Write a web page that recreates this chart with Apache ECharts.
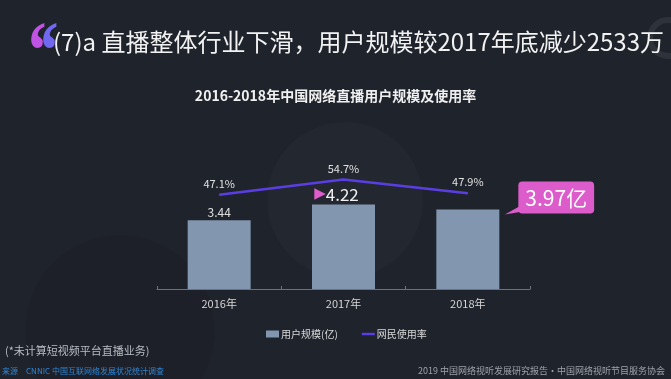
<!DOCTYPE html>
<html>
<head>
<meta charset="utf-8">
<script src="https://cdn.jsdelivr.net/npm/echarts@6/dist/echarts.min.js"></script>
<style>
html,body{margin:0;padding:0;background:#1f232c;}
#main{width:671px;height:379px;}
</style>
</head>
<body>
<div id="main"></div>
<script>
var categories = ['2016年', '2017年', '2018年'];
var userScale = [3.44, 4.22, 3.97];
var usageRate = [47.1, 54.7, 47.9];
var seriesNames = ['用户规模(亿)', '网民使用率'];
var mainTitle = '(7)a 直播整体行业下滑，用户规模较2017年底减少2533万';
var subTitle = '2016-2018年中国网络直播用户规模及使用率';
var footNote = '(*未计算短视频平台直播业务)';
var sourceNote = '来源　CNNIC 中国互联网络发展状况统计调查';
var creditNote = '2019 中国网络视听发展研究报告·中国网络视听节目服务协会';

var FONT = "'Liberation Sans Narrow', 'Noto Sans CJK SC', sans-serif";
var CJK = "'Noto Sans CJK SC', sans-serif";

var chart = echarts.init(document.getElementById('main'));
chart.setOption({
  backgroundColor: '#1f232c',
  animation: false,
  graphic: [
    { type: 'circle', shape: { cx: 345, cy: 200, r: 78 }, style: { fill: 'rgba(255,255,255,0.018)' }, z: -1 },
    { type: 'circle', shape: { cx: 120, cy: 330, r: 95 }, style: { fill: 'rgba(0,0,0,0.06)' }, z: -1 },
    { type: 'circle', shape: { cx: 668, cy: 38, r: 18 }, style: { fill: 'none', stroke: 'rgba(255,255,255,0.07)', lineWidth: 6 }, z: -1 },
    { type: 'text', left: 26, top: 15, scaleY: 1.25, style: { text: '\u2018', fontSize: 66, fontWeight: 'bold', fontFamily: 'Liberation Serif', fill: '#c052e4' } },
    { type: 'text', left: 38, top: 15, scaleY: 1.25, style: { text: '\u2018', fontSize: 66, fontWeight: 'bold', fontFamily: 'Liberation Serif', fill: '#7068ee' } },
    { type: 'text', left: 53, top: 30, style: { text: mainTitle, fontSize: 24, fontFamily: FONT, fill: '#f2f2f2' } },
    { type: 'text', left: 'center', top: 89, style: { text: subTitle, fontSize: 14, fontWeight: 'bold', fontFamily: CJK, fill: '#f0f0f0' } },
    { type: 'text', left: 5, top: 345, style: { text: footNote, fontSize: 11, fontFamily: CJK, fill: '#b9bcc4' } },
    { type: 'text', left: 2, top: 367, style: { text: sourceNote, fontSize: 8, fontFamily: CJK, fill: '#2f86d6' } },
    { type: 'text', right: 6, top: 366, style: { text: creditNote, fontSize: 9, fontFamily: CJK, fill: '#9ea2aa' } }
  ],
  legend: {
    data: [
      { name: seriesNames[0], icon: 'rect' },
      { name: seriesNames[1], icon: 'path://M0,0 L16,0 L16,3 L0,3 Z' }
    ],
    left: 261, top: 324,
    itemWidth: 13, itemHeight: 7, itemGap: 24,
    textStyle: { color: '#d8d8d8', fontSize: 10, fontFamily: CJK, padding: [0, 0, 0, -3] }
  },
  grid: { left: 157, right: 141, top: 89, bottom: 90 },
  xAxis: {
    type: 'category', data: categories,
    axisLine: { lineStyle: { color: '#6d717a', width: 1 } },
    axisTick: { show: true, inside: true, length: 3, lineStyle: { color: '#6d717a' } },
    axisLabel: { color: '#d6d6d6', fontSize: 11, fontFamily: FONT, margin: 9 }
  },
  yAxis: [
    { type: 'value', min: 0, max: 10, show: false, splitLine: { show: false } },
    { type: 'value', min: 0, max: 100, show: false, splitLine: { show: false } }
  ],
  series: [
    {
      name: seriesNames[0], type: 'bar', barWidth: 63,
      itemStyle: { color: '#8396af' },
      data: userScale.map(function (v, i) {
        var d = { value: v };
        if (i === 1) {
          d.label = { formatter: '{t|\u25B6}{v|{c}}', offset: [-7, 0],
            rich: { t: { color: '#e05ccb', fontSize: 15, fontFamily: 'DejaVu Sans' }, v: { color: '#f0f0f0', fontSize: 17, fontFamily: FONT } } };
        }
        if (i === 2) {
          d.label = { formatter: '{c}亿', position: [82, -28], align: 'left', verticalAlign: 'top',
            backgroundColor: '#dd5ccb', borderRadius: 4, padding: [6, 7, 5, 7],
            color: '#ffffff', fontSize: 21, fontFamily: FONT };
        }
        return d;
      }),
      label: { show: true, position: 'top', distance: 2, color: '#e0e0e0', fontSize: 12, fontFamily: FONT },
      markPoint: {
        symbol: 'path://M0,10 L18,0 L18,7 Z',
        symbolSize: [18, 10],
        symbolOffset: [46, 0],
        itemStyle: { color: '#dd5ccb' },
        label: { show: false },
        data: [{ coord: [categories[2], userScale[2]] }]
      }
    },
    {
      name: seriesNames[1], type: 'line', yAxisIndex: 1,
      data: usageRate, symbol: 'circle', symbolSize: 1, showSymbol: true,
      lineStyle: { color: '#5a3ee3', width: 2.5 },
      itemStyle: { color: '#5a3ee3' },
      label: { show: true, position: 'top', distance: 5, formatter: '{c}%', color: '#e0e0e0', fontSize: 11, fontFamily: FONT }
    }
  ]
});
</script>
</body>
</html>
